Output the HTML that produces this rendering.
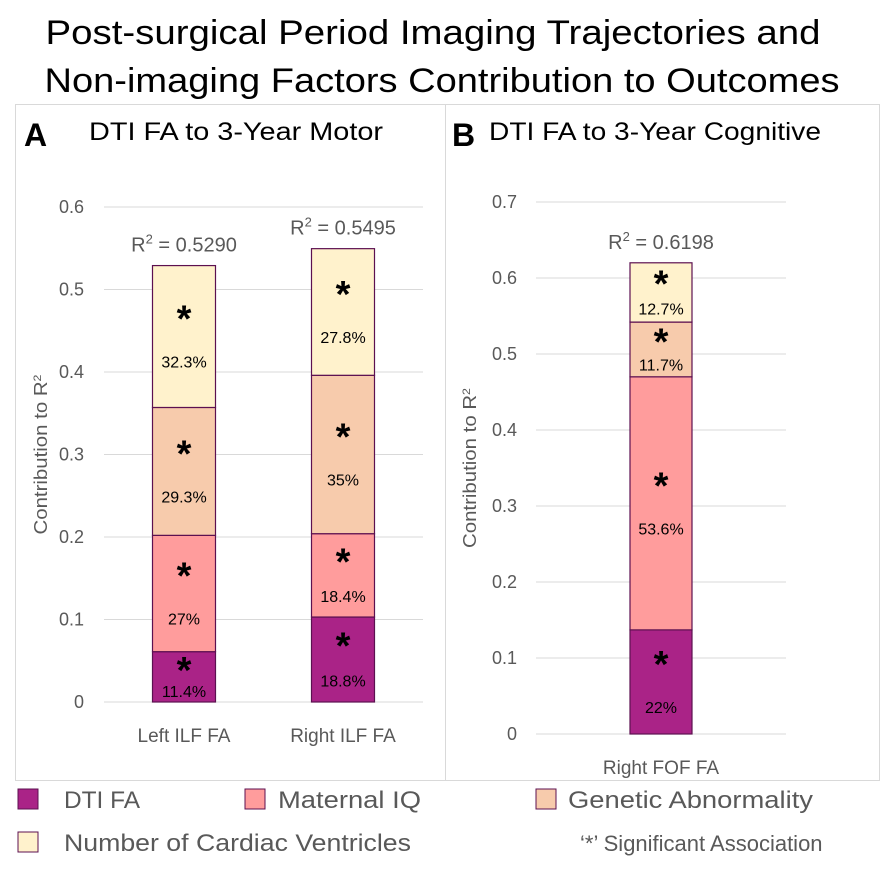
<!DOCTYPE html>
<html><head><meta charset="utf-8"><style>
body{margin:0;background:#fff;width:893px;height:872px;overflow:hidden;font-family:"Liberation Sans",sans-serif}
svg text{font-family:"Liberation Sans",sans-serif}
</style></head><body>
<svg id="chart" width="893" height="872" xmlns="http://www.w3.org/2000/svg">
<text x="433" y="44" text-anchor="middle" font-size="34" textLength="775" lengthAdjust="spacingAndGlyphs" fill="#000">Post-surgical Period Imaging Trajectories and</text>
<text x="442" y="92" text-anchor="middle" font-size="34" textLength="795" lengthAdjust="spacingAndGlyphs" fill="#000">Non-imaging Factors Contribution to Outcomes</text>
<rect x="15.5" y="104.5" width="430" height="676" fill="none" stroke="#d9d9d9"/>
<rect x="445.5" y="104.5" width="434" height="676" fill="none" stroke="#d9d9d9"/>
<text x="24" y="146" font-size="32" font-weight="bold">A</text>
<text x="89" y="140" font-size="25" textLength="294" lengthAdjust="spacingAndGlyphs">DTI FA to 3-Year Motor</text>
<text x="452" y="146" font-size="32" font-weight="bold">B</text>
<text x="489" y="140" font-size="25" textLength="332" lengthAdjust="spacingAndGlyphs">DTI FA to 3-Year Cognitive</text>
<g id="pa"></g><g id="pb"></g>
<g font-size="24" fill="#595959">
<rect x="18" y="789" width="20" height="20" fill="#AA2387" stroke="#5c1050"/>
<text x="64" y="808" textLength="76" lengthAdjust="spacingAndGlyphs">DTI FA</text>
<rect x="245" y="789" width="20" height="20" fill="#FF9C9C" stroke="#5c1050"/>
<text x="278" y="808" textLength="143" lengthAdjust="spacingAndGlyphs">Maternal IQ</text>
<rect x="536" y="789" width="20" height="20" fill="#F7CBAC" stroke="#5c1050"/>
<text x="568" y="808" textLength="245" lengthAdjust="spacingAndGlyphs">Genetic Abnormality</text>
<rect x="18" y="832" width="20" height="20" fill="#FFF2CC" stroke="#5c1050"/>
<text x="64" y="851" textLength="347" lengthAdjust="spacingAndGlyphs">Number of Cardiac Ventricles</text>
<text x="580" y="851" font-size="22">‘*’ Significant Association</text>
</g>
</svg>
<script>
const colors=["#AA2387","#FF9C9C","#F7CBAC","#FFF2CC"];
const seriesNames=["dti-fa","maternal-iq","genetic","ventricles"];
const catsA=["Left ILF FA","Right ILF FA"];
const valsA=[[0.061,0.141,0.155,0.172],[0.103,0.101,0.192,0.1535]];
const labelsA=[["11.4%","27%","29.3%","32.3%"],["18.8%","18.4%","35%","27.8%"]];
const r2A=["0.5290","0.5495"];
const ticksA=[0,0.1,0.2,0.3,0.4,0.5,0.6];
const catsB=["Right FOF FA"];
const valsB=[[0.137,0.333,0.072,0.078]];
const labelsB=[["22%","53.6%","11.7%","12.7%"]];
const r2B=["0.6198"];
const ticksB=[0,0.1,0.2,0.3,0.4,0.5,0.6,0.7];
const NS="http://www.w3.org/2000/svg";
function mk(p,t,a){const e=document.createElementNS(NS,t);for(const k in a)e.setAttribute(k,a[k]);p.appendChild(e);return e;}
function panel(g,id,cats,vals,labels,r2,ticks,o){
 const y=v=>o.y0-(v/o.max)*(o.y0-o.yTop);
 ticks.forEach(t=>{const l=mk(g,"line",{x1:o.gx0,x2:o.gx1,y1:y(t),y2:y(t),stroke:"#d9d9d9"});
 
 
 const tx=mk(g,"text",{x:o.tx,y:y(t)+6,"text-anchor":"end","font-size":18,fill:"#595959"});tx.textContent=String(t);
 
 });
 const yt=mk(g,"text",{transform:`translate(${o.ytx},${(o.y0+o.yTop)/2}) rotate(-90)`,"text-anchor":"middle","font-size":18,fill:"#595959",textLength:160,lengthAdjust:"spacingAndGlyphs"});
 yt.innerHTML='Contribution to R<tspan dy="-6" font-size="11">2</tspan>';
 
 
 cats.forEach((c,i)=>{const cx=o.cx[i];let acc=0;
  vals[i].forEach((v,j)=>{const yt1=y(acc+v),yb=y(acc);
   const r=mk(g,"rect",{x:cx-o.bw/2,y:yt1,width:o.bw,height:yb-yt1,fill:colors[j],stroke:"#5c1050","stroke-width":1.2});
   
   
   const h=yb-yt1,mid=(yt1+yb)/2,gap=Math.min(h*0.4,42);
   const s=mk(g,"text",{x:cx,y:mid-gap/2+16,"text-anchor":"middle","font-size":38,"font-weight":"bold",fill:"#000"});s.textContent="*";
   
   
   const p=mk(g,"text",{x:cx,y:mid+gap/2+10,"text-anchor":"middle","font-size":16,fill:"#000"});p.textContent=labels[i][j];
   
   
   acc+=v;});
  const rt=mk(g,"text",{x:cx,y:y(acc)-14,"text-anchor":"middle","font-size":20,fill:"#595959"});
  rt.innerHTML='R<tspan dy="-8" font-size="13">2</tspan><tspan dy="8"> = '+r2[i]+'</tspan>';
  
  
  const xl=mk(g,"text",{x:cx,y:o.y0+40,"text-anchor":"middle","font-size":19,fill:"#595959"});xl.textContent=c;
  
  });
}
panel(document.getElementById("pa"),"a",catsA,valsA,labelsA,r2A,ticksA,{y0:702,yTop:207,max:0.6,gx0:104,gx1:423,tx:84,ytx:47,cx:[184,343],bw:63});
panel(document.getElementById("pb"),"b",catsB,valsB,labelsB,r2B,ticksB,{y0:734,yTop:202,max:0.7,gx0:536,gx1:786,tx:517,ytx:476,cx:[661],bw:62});
</script>
</body></html>
